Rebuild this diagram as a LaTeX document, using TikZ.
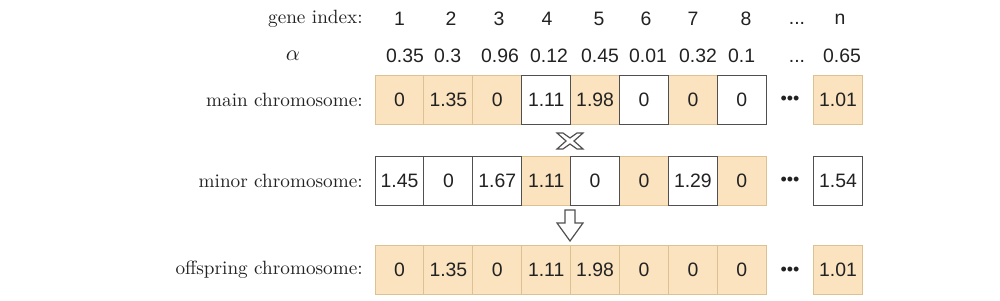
\documentclass[tikz,border=0pt]{standalone}
\usepackage{fontspec}
\newfontfamily\numfont{Liberation Sans}
\definecolor{genefill}{HTML}{FAE3BE}
\definecolor{geneline}{HTML}{DCC293}
\definecolor{cellline}{HTML}{505050}
\definecolor{inkgray}{HTML}{222222}
\tikzset{
  gene/.style={draw=geneline, fill=genefill, line width=0.5pt, minimum width=24.45pt,
    minimum height=24.5pt, inner sep=0pt, outer sep=0pt, text=inkgray,
    font=\numfont\fontsize{9.7}{11}\selectfont},
  plain/.style={gene, draw=cellline, fill=white},
  rowlabel/.style={anchor=east, inner sep=0pt, text=inkgray, font=\fontsize{9.6}{11}\selectfont},
  head/.style={text=inkgray, font=\numfont\fontsize{9.7}{11}\selectfont},
  dots/.style={text=inkgray, font=\numfont\fontsize{9}{10}\selectfont},
  symbol/.style={draw=cellline, fill=white, line width=0.6pt, line join=miter}
}
\begin{document}
\begin{tikzpicture}[x=0.5pt, y=-0.5pt]
  \useasboundingbox (0, 0) rectangle (1000, 300);

  % header rows
  \node[rowlabel] (glabel) at (363, 19) {gene index:};
  \node[head] (g1) at (399.5, 19) {1};
  \node[head] (g2) at (451, 19) {2};
  \node[head] (g3) at (499, 19) {3};
  \node[head] (g4) at (547, 19) {4};
  \node[head] (g5) at (599, 19) {5};
  \node[head] (g6) at (646, 19) {6};
  \node[head] (g7) at (693, 19) {7};
  \node[head] (g8) at (746, 19) {8};
  \node[head, anchor=base] (gdots) at (797, 25) {...};
  \node[head] (gn) at (840, 19) {n};

  \node[text=inkgray, font=\fontsize{10.5}{12}\selectfont] (alabel) at (293, 56) {$\alpha$};
  \node[head, anchor=west] (a1) at (379, 56) {0.35};
  \node[head, anchor=west] (a2) at (427, 56) {0.3};
  \node[head, anchor=west] (a3) at (474, 56) {0.96};
  \node[head, anchor=west] (a4) at (523, 56) {0.12};
  \node[head, anchor=west] (a5) at (574, 56) {0.45};
  \node[head, anchor=west] (a6) at (622, 56) {0.01};
  \node[head, anchor=west] (a7) at (672, 56) {0.32};
  \node[head, anchor=west] (a8) at (721, 56) {0.1};
  \node[head, anchor=base] (adots) at (797, 62) {...};
  \node[head] (an) at (842, 56) {0.65};

  % main chromosome
  \node[rowlabel] (mlabel) at (363, 99.5) {main chromosome:};
  \node[gene] (m1) at (399.5, 99.5) {0};
  \node[gene] (m2) at (448.4, 99.5) {1.35};
  \node[gene] (m3) at (497.3, 99.5) {0};
  \node[gene] (m5) at (595.1, 99.5) {1.98};
  \node[gene] (m7) at (692.9, 99.5) {0};
  \node[plain] (m4) at (546.2, 99.5) {1.11};
  \node[plain] (m6) at (644, 99.5) {0};
  \node[plain] (m8) at (741.8, 99.5) {0};
  \node[dots] (mdots) at (790, 100.5) {\textbullet\textbullet\textbullet};
  \node[gene] (mn) at (838, 99.5) {1.01};

  % crossover mark
  \coordinate (cross) at (570, 141);
  \draw[symbol] ([shift={(-13,-8)}]cross) -- ++(6,0) -- ++(7,5) -- ++(7,-5) -- ++(6,0)
    -- ++(-9,8) -- ++(9,8) -- ++(-6,0) -- ++(-7,-5) -- ++(-7,5) -- ++(-6,0) -- ++(9,-8) -- cycle;

  % minor chromosome
  \node[rowlabel] (slabel) at (363, 180.5) {minor chromosome:};
  \node[gene] (s4) at (546.2, 180.5) {1.11};
  \node[gene] (s6) at (644, 180.5) {0};
  \node[gene] (s8) at (741.8, 180.5) {0};
  \node[plain] (s1) at (399.5, 180.5) {1.45};
  \node[plain] (s2) at (448.4, 180.5) {0};
  \node[plain] (s3) at (497.3, 180.5) {1.67};
  \node[plain] (s5) at (595.1, 180.5) {0};
  \node[plain] (s7) at (692.9, 180.5) {1.29};
  \node[dots] (sdots) at (790, 181.5) {\textbullet\textbullet\textbullet};
  \node[plain] (sn) at (838, 180.5) {1.54};

  % result arrow
  \coordinate (down) at (570, 210);
  \draw[symbol] ([shift={(-5,0)}]down) -- ++(10,0) -- ++(0,13) -- ++(8,0) -- ++(-13,18)
    -- ++(-13,-18) -- ++(8,0) -- cycle;

  % offspring chromosome
  \node[rowlabel] (olabel) at (363, 270) {offspring chromosome:};
  \node[gene] (o1) at (399.5, 270) {0};
  \node[gene] (o2) at (448.4, 270) {1.35};
  \node[gene] (o3) at (497.3, 270) {0};
  \node[gene] (o4) at (546.2, 270) {1.11};
  \node[gene] (o5) at (595.1, 270) {1.98};
  \node[gene] (o6) at (644, 270) {0};
  \node[gene] (o7) at (692.9, 270) {0};
  \node[gene] (o8) at (741.8, 270) {0};
  \node[dots] (odots) at (790, 271) {\textbullet\textbullet\textbullet};
  \node[gene] (on) at (838, 270) {1.01};
\end{tikzpicture}
\end{document}
